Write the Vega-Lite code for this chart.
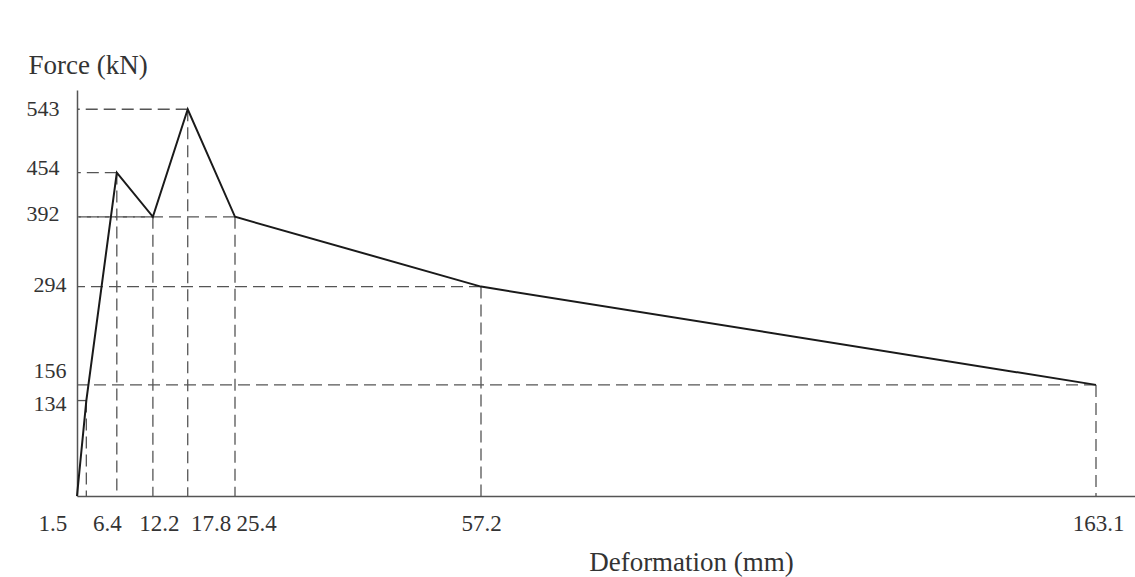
{
  "$schema": "https://vega.github.io/schema/vega-lite/v6.json",
  "width": 1058,
  "height": 406,
  "autosize": "none",
  "padding": {"left": 77, "top": 90, "right": 0, "bottom": 81},
  "background": "white",
  "config": {"view": {"stroke": null}, "font": "Liberation Serif"},
  "data": {
    "values": [
      {"def": 0, "force": 0},
      {"def": 1.5, "force": 134},
      {"def": 6.4, "force": 454},
      {"def": 12.2, "force": 392},
      {"def": 17.8, "force": 543},
      {"def": 25.4, "force": 392},
      {"def": 57.2, "force": 294},
      {"def": 163.1, "force": 156}
    ]
  },
  "encoding": {
    "x": {
      "field": "def",
      "type": "quantitative",
      "scale": {"domain": [0, 25.4, 57.2, 163.1, 169.8], "range": [0, 158, 404, 1019, 1058], "nice": false, "zero": false},
      "axis": {
        "title": "Deformation (mm)",
        "values": [1.5, 6.4, 12.2, 17.8, 25.4, 57.2, 163.1],
        "format": ".1f",
        "ticks": false,
        "tickSize": 0,
        "grid": false,
        "domainColor": "#555555",
        "domainWidth": 1.5,
        "labelFont": "Liberation Serif",
        "labelFontSize": 23,
        "labelColor": "#333333",
        "labelBaseline": "middle",
        "labelPadding": 27,
        "labelFlush": false,
        "labelOverlap": false,
        "labelOffset": {
          "condition": [
            {"test": "datum.value == 1.5", "value": -34},
            {"test": "datum.value == 6.4", "value": -10},
            {"test": "datum.value == 12.2", "value": 6},
            {"test": "datum.value == 17.8", "value": 23},
            {"test": "datum.value == 25.4", "value": 21},
            {"test": "datum.value == 163.1", "value": 2}
          ],
          "value": 0
        },
        "titleFont": "Liberation Serif",
        "titleFontSize": 27,
        "titleFontWeight": "normal",
        "titleColor": "#333333",
        "titleX": 614,
        "titleY": 66,
        "titleAlign": "center",
        "titleBaseline": "middle"
      }
    },
    "y": {
      "field": "force",
      "type": "quantitative",
      "scale": {"domain": [0, 570], "nice": false},
      "axis": {
        "title": "Force (kN)",
        "values": [134, 156, 294, 392, 454, 543],
        "format": "d",
        "ticks": false,
        "tickSize": 0,
        "grid": false,
        "domainColor": "#555555",
        "domainWidth": 1.5,
        "labelFont": "Liberation Serif",
        "labelFontSize": 22,
        "labelColor": "#333333",
        "labelBaseline": "middle",
        "labelFlush": false,
        "labelOverlap": false,
        "labelPadding": {"condition": {"test": "datum.value >= 392", "value": 18}, "value": 11},
        "labelOffset": {
          "condition": [
            {"test": "datum.value == 156", "value": -14},
            {"test": "datum.value == 454", "value": -5},
            {"test": "datum.value == 392", "value": -3},
            {"test": "datum.value == 134", "value": 3},
            {"test": "datum.value == 294", "value": -2}
          ],
          "value": -1
        },
        "titleFont": "Liberation Serif",
        "titleFontSize": 27,
        "titleFontWeight": "normal",
        "titleColor": "#333333",
        "titleAngle": 0,
        "titleAlign": "left",
        "titleBaseline": "middle",
        "titleX": -49,
        "titleY": -25
      }
    }
  },
  "layer": [
    {
      "transform": [{"filter": "datum.force > 0"}],
      "mark": {"type": "rule", "strokeDash": [12, 6], "color": "#555555", "strokeWidth": 1.3},
      "encoding": {
        "y2": {"datum": 0}
      }
    },
    {
      "transform": [{"filter": "datum.force > 0"}],
      "mark": {"type": "rule", "strokeDash": [12, 6], "color": "#555555", "strokeWidth": 1.3},
      "encoding": {
        "x2": {"datum": 0}
      }
    },
    {
      "mark": {"type": "line", "color": "#1a1a1a", "strokeWidth": 2},
      "encoding": {}
    }
  ]
}
